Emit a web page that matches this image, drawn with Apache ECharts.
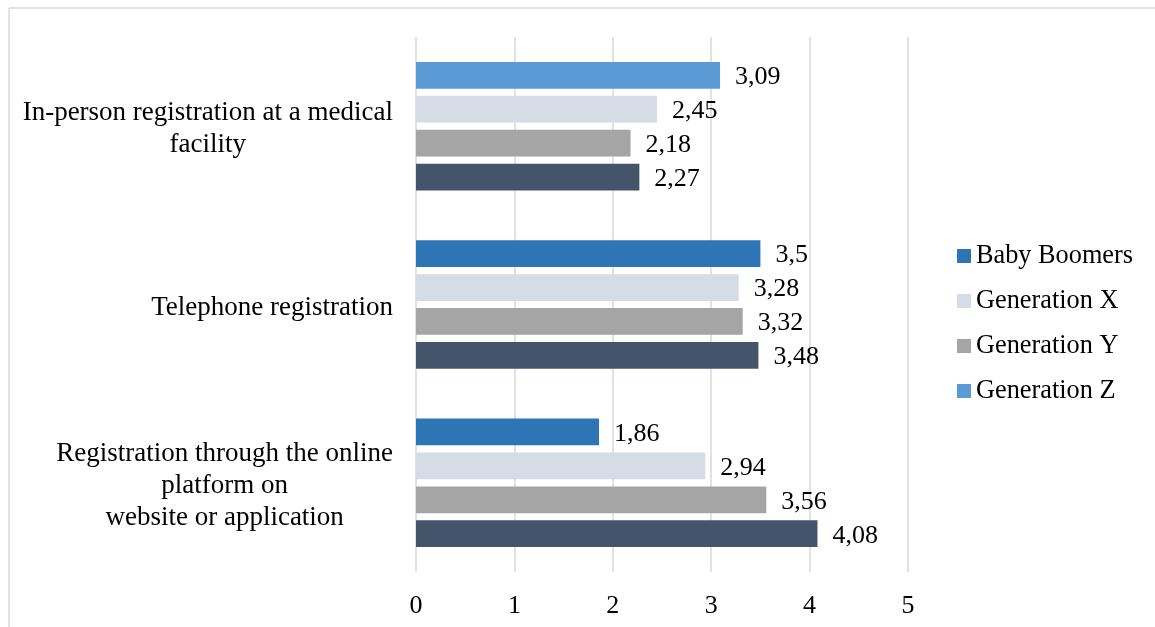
<!DOCTYPE html>
<html>
<head>
<meta charset="utf-8">
<script src="https://cdn.jsdelivr.net/npm/echarts@6/dist/echarts.min.js"></script>
<style>
  html, body { margin: 0; padding: 0; background: #fff; overflow: hidden; }
  #chart { width: 1155px; height: 627px; }
</style>
</head>
<body>
<div id="chart"></div>
<script>
// Registration channels (top to bottom), line breaks as shown on the axis
const categories = [
  'In-person registration at a medical\nfacility',
  'Telephone registration',
  'Registration through the online\nplatform on\nwebsite or application'
];

// Bar values per position inside each group, top bar first
const babyBoomers = [3.09, 3.5, 1.86];
const generationX = [2.45, 3.28, 2.94];
const generationY = [2.18, 3.32, 3.56];
const generationZ = [2.27, 3.48, 4.08];

const xTicks = [0, 1, 2, 3, 4, 5];

const FONT = "'Liberation Serif', 'Times New Roman', serif";
const C_DARK_BLUE = '#2E75B6';
const C_LIGHT_BLUE = '#5B9BD5';
const C_LIGHT_GRAY = '#D6DCE5';
const C_GRAY = '#A5A5A5';
const C_SLATE = '#44546A';
const C_FRAME = '#D9D9D9';

const chart = echarts.init(document.getElementById('chart'), null, { renderer: 'canvas' });

const valueLabel = {
  show: true,
  position: 'right',
  distance: 15,
  offset: [0, 2],
  color: '#000',
  fontFamily: FONT,
  fontSize: 26,
  formatter: p => String(p.value).replace('.', ',')
};

function barSeries(name, values, color, firstColor) {
  return {
    name: name,
    type: 'bar',
    barWidth: 26.7,
    barGap: '27%',
    itemStyle: { color: color },
    label: valueLabel,
    data: values.map((v, i) => (i === 0 && firstColor)
      ? { value: v, itemStyle: { color: firstColor } }
      : v)
  };
}

chart.setOption({
  animation: false,
  backgroundColor: '#fff',
  textStyle: { fontFamily: FONT },
  // chart frame: top and left edges
  graphic: [
    { type: 'line', shape: { x1: 9, y1: 8, x2: 1155, y2: 8 },
      style: { stroke: C_FRAME, lineWidth: 1.5 }, silent: true },
    { type: 'line', shape: { x1: 9, y1: 8, x2: 9, y2: 627 },
      style: { stroke: C_FRAME, lineWidth: 1.5 }, silent: true }
  ],
  grid: { left: 416, right: 247, top: 37, bottom: 55, containLabel: false },
  legend: {
    orient: 'vertical',
    left: 952,
    top: 238,
    itemWidth: 14,
    itemHeight: 14,
    itemGap: 19,
    icon: 'rect',
    textStyle: { fontFamily: FONT, fontSize: 26.3, color: '#000' },
    data: [
      { name: 'Baby Boomers', itemStyle: { color: C_DARK_BLUE } },
      { name: 'Generation X', itemStyle: { color: C_LIGHT_GRAY } },
      { name: 'Generation Y', itemStyle: { color: C_GRAY } },
      { name: 'Generation Z', itemStyle: { color: C_LIGHT_BLUE } }
    ]
  },
  xAxis: {
    type: 'value',
    min: xTicks[0],
    max: xTicks[xTicks.length - 1],
    interval: 1,
    axisLine: { show: false },
    axisTick: { show: false },
    splitLine: { show: true, lineStyle: { color: C_FRAME, width: 1.5 } },
    axisLabel: { fontFamily: FONT, fontSize: 26, color: '#000', margin: 21 }
  },
  yAxis: {
    type: 'category',
    inverse: true,
    data: categories,
    axisLine: { show: false },
    axisTick: { show: false },
    axisLabel: {
      margin: 23,
      align: 'right',
      padding: [6, 0, 0, 0],
      formatter: v => v.split('\n').map(l => '{c|' + l + '}').join('\n'),
      rich: {
        c: { align: 'center', fontFamily: FONT, fontSize: 27, lineHeight: 32, color: '#000' }
      }
    }
  },
  series: [
    barSeries('Baby Boomers', babyBoomers, C_DARK_BLUE, C_LIGHT_BLUE),
    barSeries('Generation X', generationX, C_LIGHT_GRAY),
    barSeries('Generation Y', generationY, C_GRAY),
    barSeries('Generation Z', generationZ, C_SLATE)
  ]
});
</script>
</body>
</html>
